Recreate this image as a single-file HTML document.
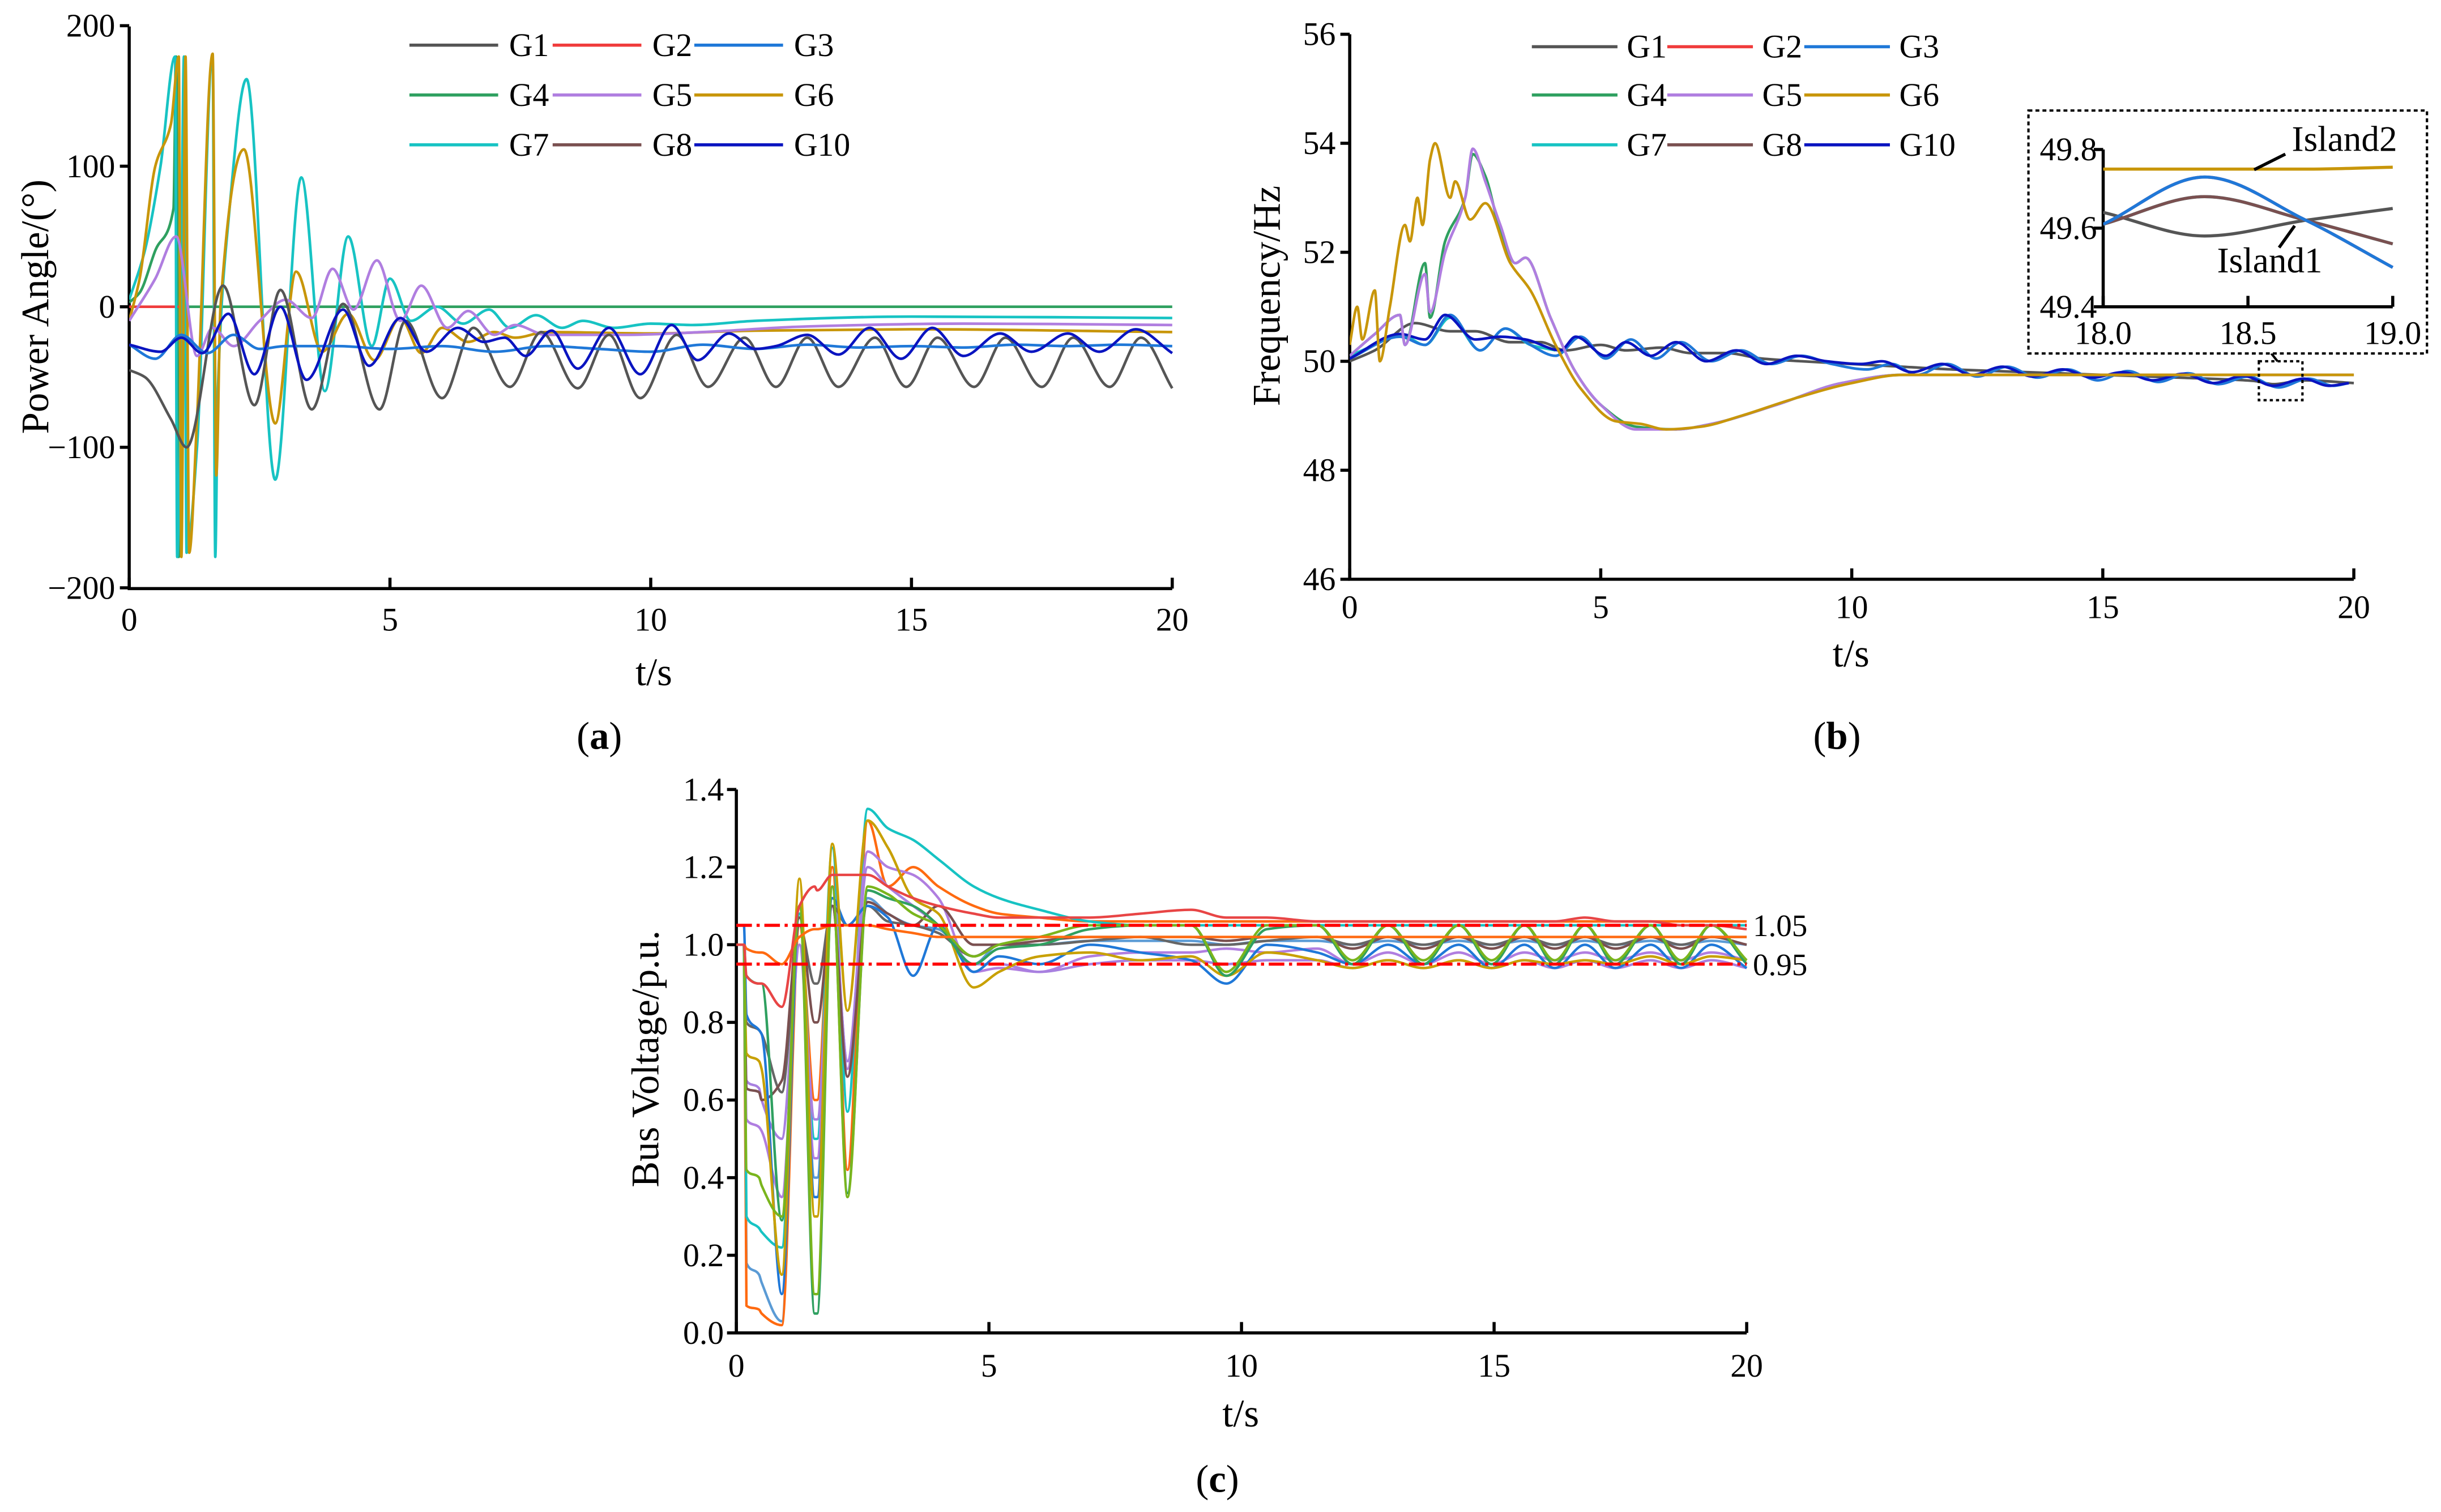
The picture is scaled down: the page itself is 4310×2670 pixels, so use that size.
<!DOCTYPE html>
<html><head><meta charset="utf-8">
<style>
html,body{margin:0;padding:0;background:#fff;}
svg{display:block;}
text{font-family:"Liberation Serif",serif;fill:#000;}
</style></head>
<body>
<svg id="fig" xmlns="http://www.w3.org/2000/svg" width="4310" height="2670" viewBox="0 0 1568 971" preserveAspectRatio="none">
<defs>
<clipPath id="clipA"><rect x="83" y="10" width="672" height="370"/></clipPath>
<clipPath id="clipB"><rect x="867" y="15" width="650" height="360"/></clipPath>
<clipPath id="clipC"><rect x="473" y="500" width="652" height="358"/></clipPath>
<clipPath id="clipI"><rect x="1351" y="85" width="188" height="113"/></clipPath>
</defs>
<g id="panelA"></g>
<g id="panelB"></g>
<g id="panelC"></g>
</svg>
<script>
// ---------- Panel (a) data ----------
const a_yTicks = [200, 100, 0, -100, -200];
const a_yTickLabels = ["200", "100", "0", "\u2212100", "\u2212200"];
const xTicks = [0, 5, 10, 15, 20];
const xTickLabels = ["0", "5", "10", "15", "20"];
const legendNames = ["G1","G2","G3","G4","G5","G6","G7","G8","G10"];
const legendColors = ["#555555","#f03c3c","#1f78d8","#2fa060","#b07ee0","#c8960a","#17c3c3","#7a5050","#0a14c0"];

const g1T = [0,0.3,0.8,1.1,1.8,2.4,2.9,3.5,4.1,4.8,5.3,6.0,6.6,7.3,7.9,8.6,9.2,9.8,10.5,11.1,11.8,12.4,13.0,13.6,14.3,14.9,15.5,16.2,16.8,17.5,18.1,18.8,19.4,20];
const g1V = [-45,-50,-80,-100,15,-70,12,-73,2,-73,-10,-65,-15,-57,-18,-58,-20,-65,-20,-57,-22,-57,-22,-57,-22,-57,-22,-57,-22,-57,-22,-57,-22,-58];
const g2T = [0,1.0];
const g2V = [0,0];
const g3T = [0,0.5,1.0,1.5,2.0,2.5,3.0,4,5,6,7,8,9,10,11,12,13,14,15,16,17,18,19,20];
const g3V = [-27,-37,-20,-33,-20,-30,-28,-28,-30,-28,-32,-28,-30,-32,-27,-30,-27,-29,-28,-29,-27,-28,-27,-28];
const g4T = [0,0.2,0.5,0.85,0.9,0.95,1.0,1.15,1.3,20];
const g4V = [3,10,40,70,178,-178,-60,0,0,0];
const g5T = [0,0.5,0.9,1.3,1.6,2.0,2.5,3.0,3.5,3.9,4.3,4.75,5.2,5.6,6.1,6.5,7.0,7.4,8,9.5,11,13,16,20];
const g5V = [-10,20,50,-35,-15,-28,-10,5,-8,27,-2,33,-10,15,-15,-3,-20,-13,-20,-20,-18,-14,-12,-13];
const g6T = [0,0.2,0.5,0.8,0.95,1.0,1.08,1.15,1.3,1.6,1.67,1.75,2.2,2.8,3.2,3.7,4.2,4.7,5.2,5.6,6.0,6.5,7.0,7.4,8.0,10,12,15,20];
const g6V = [-10,20,100,130,178,-178,178,-175,-80,180,-120,0,112,-83,25,-32,-5,-38,-8,-33,-15,-25,-18,-22,-18,-19,-17,-16,-18];
const g7T = [0,0.3,0.6,0.88,0.92,0.97,1.05,1.1,1.3,1.6,1.65,1.7,1.9,2.25,2.8,3.3,3.75,4.2,4.65,5.0,5.4,5.9,6.4,6.9,7.3,7.8,8.3,8.7,9.3,10,10.8,12,15,20];
const g7V = [5,40,100,178,-178,-100,178,-175,-100,178,-178,-60,60,162,-123,92,-60,50,-28,20,-10,0,-12,-2,-15,-6,-15,-10,-15,-12,-13,-10,-7,-8];
const g10T = [0,0.6,1.0,1.4,1.9,2.4,2.9,3.4,4.1,4.6,5.2,5.7,6.3,6.8,7.2,7.6,8.1,8.6,9.2,9.8,10.4,10.9,11.5,12.0,12.4,13.0,13.6,14.2,14.8,15.4,16.0,16.7,17.3,18.0,18.6,19.3,20];
const g10V = [-27,-32,-22,-33,-5,-48,0,-52,-2,-42,-8,-32,-15,-25,-22,-35,-17,-44,-15,-48,-13,-38,-19,-30,-28,-20,-34,-15,-37,-15,-35,-19,-32,-19,-32,-16,-33];

// ---------- Panel (b) data ----------
const b_yTicks = [56,54,52,50,48,46];
const b_yTickLabels = ["56","54","52","50","48","46"];
const f1T = [0,0.5,1.3,2.0,2.5,3.2,3.8,4.3,5.0,5.5,6.2,6.8,7.5,8.2,9,10,11,12,13.5,15,16.5,18,18.4,19,20];
const f1V = [50,50.2,50.7,50.55,50.55,50.35,50.35,50.2,50.3,50.2,50.25,50.15,50.15,50.05,50.0,49.95,49.9,49.85,49.8,49.75,49.7,49.64,49.58,49.65,49.6];
const f10T = [0,1.0,1.5,1.9,2.5,3.0,3.5,4.2,4.5,5.1,5.5,6.0,6.5,7.1,7.7,8.3,8.9,9.5,10.2,10.6,11.2,11.8,12.4,13.0,13.6,14.2,14.8,15.4,16.0,16.6,17.2,17.8,18.4,19.0,19.5,19.9];
const f10V = [50.05,50.5,50.4,50.85,50.4,50.45,50.4,50.2,50.45,50.1,50.35,50.1,50.35,50.0,50.2,49.95,50.1,50.0,49.95,50.0,49.8,49.95,49.75,49.9,49.72,49.85,49.7,49.8,49.65,49.77,49.6,49.73,49.55,49.68,49.55,49.6];
const f3T = [0,1.0,1.5,2.0,2.6,3.1,3.6,4.1,4.6,5.1,5.6,6.1,6.6,7.2,7.8,8.4,9.0,9.6,10.3,10.8,11.3,11.9,12.5,13.1,13.7,14.3,14.9,15.5,16.1,16.7,17.3,17.9,18.5,19.1,19.6,19.9];
const f3V = [50.05,50.45,50.3,50.85,50.2,50.6,50.3,50.1,50.45,50.05,50.4,50.05,50.35,50.0,50.2,49.95,50.1,49.95,49.85,49.95,49.75,49.95,49.72,49.9,49.7,49.85,49.65,49.82,49.62,49.78,49.58,49.72,49.52,49.68,49.55,49.6];
const f4T = [0,0.5,1.0,1.1,1.5,1.6,1.9,2.3,2.45,2.7,3.0,3.3,3.5,4.0,4.5,5.0,5.7,6.5,7.2,8.5,9.8,11,20];
const f4V = [50.1,50.5,50.85,50.3,51.8,50.8,52.2,53.0,53.8,53.4,52.4,51.8,51.9,50.8,49.8,49.2,48.8,48.75,48.85,49.2,49.6,49.75,49.75];
const f5T = [0,0.5,1.0,1.1,1.5,1.6,1.9,2.3,2.45,2.7,3.0,3.3,3.5,4.0,4.5,5.0,5.7,6.5,7.2,8.5,9.8,11,20];
const f5V = [50.1,50.5,50.85,50.3,51.6,50.9,52.0,53.0,53.9,53.3,52.5,51.8,51.9,50.8,49.8,49.2,48.75,48.75,48.85,49.2,49.6,49.75,49.75];
const f6T = [0,0.15,0.25,0.5,0.6,0.8,1.1,1.2,1.35,1.45,1.6,1.7,2.0,2.1,2.4,2.7,3.2,3.6,4.1,4.6,5.3,5.8,6.3,7.0,7.8,8.8,10,11,12.5,20];
const f6V = [50.3,51.0,50.4,51.3,50.0,51.0,52.5,52.2,53.0,52.5,53.7,54.0,53.0,53.3,52.6,52.9,51.8,51.3,50.3,49.5,48.9,48.85,48.75,48.8,49.0,49.3,49.6,49.75,49.75,49.75];
const f7T = [0,0.5,1.0,1.5,2.0,2.6,3.1,3.6,4.1];
const f7V = [50.1,50.3,50.5,50.3,50.8,50.2,50.6,50.3,50.2];
const insT = [18,18.35,18.7,19];
const ins1V = [49.64,49.58,49.62,49.65];
const ins3V = [49.61,49.73,49.62,49.5];
const ins7V = [49.61,49.68,49.62,49.56];
const ins6V = [49.75,49.75,49.75,49.755];
const i_yTicks = [49.8,49.6,49.4];
const i_yTickLabels = ["49.8","49.6","49.4"];
const i_xTicks = [18.0,18.5,19.0];
const i_xTickLabels = ["18.0","18.5","19.0"];

// ---------- Panel (c) data ----------
const c_yTicks = [1.4,1.2,1.0,0.8,0.6,0.4,0.2,0.0];
const c_yTickLabels = ["1.4","1.2","1.0","0.8","0.6","0.4","0.2","0.0"];
const limits = [1.05, 0.95];
const limitLabels = ["1.05", "0.95"];
const busT = [0,0.15,0.2,0.45,0.5,0.9,1.25,1.55,1.6,1.9,2.2,2.6,3.0,3.5,4.0,4.7,5.2,6,7,8,9,9.7,10.5,11.5,12.2,12.9,13.6,14.3,14.95,15.6,16.2,16.8,17.4,18.1,18.7,19.3,20];
const busColors = ["#e84545","#ff6a10","#ff6a10","#17c3c3","#b07ee0","#666666","#1f78d8","#c8a000","#2fa060","#5b9bd5","#7a5050","#7ab51d","#a880e0"];
const bus1 = [1.0,1.0,0.92,0.9,0.9,0.84,1.1,1.15,1.14,1.18,1.18,1.18,1.15,1.12,1.1,1.08,1.07,1.07,1.07,1.08,1.09,1.07,1.07,1.06,1.06,1.06,1.06,1.06,1.06,1.06,1.06,1.07,1.06,1.06,1.05,1.05,1.04];
const bus2 = [1.0,1.0,0.99,0.98,0.98,0.95,1.02,1.04,1.04,1.05,1.05,1.05,1.04,1.03,1.02,1.02,1.02,1.02,1.02,1.02,1.02,1.02,1.02,1.02,1.02,1.02,1.02,1.02,1.02,1.02,1.02,1.02,1.02,1.02,1.02,1.02,1.02];
const bus3 = [1.0,1.0,0.07,0.06,0.05,0.02,1.05,0.6,0.6,1.2,0.42,1.32,1.15,1.2,1.15,1.1,1.08,1.07,1.06,1.06,1.06,1.06,1.06,1.06,1.06,1.06,1.06,1.06,1.06,1.06,1.06,1.06,1.06,1.06,1.06,1.06,1.06];
const bus4 = [1.0,1.0,0.3,0.27,0.26,0.22,1.08,0.5,0.5,1.25,0.57,1.35,1.3,1.27,1.22,1.15,1.12,1.09,1.06,1.05,1.05,1.05,1.05,1.05,1.05,1.05,1.05,1.05,1.05,1.05,1.05,1.05,1.05,1.05,1.05,1.05,1.05];
const bus5 = [1.0,1.0,0.55,0.53,0.52,0.35,1.0,0.45,0.45,1.15,0.68,1.24,1.2,1.18,1.12,0.93,0.94,0.93,0.97,0.98,0.98,0.99,0.98,0.99,0.95,0.98,0.95,0.98,0.95,0.98,0.96,0.98,0.96,0.98,0.96,0.98,0.96];
const bus6 = [1.0,1.0,0.8,0.78,0.77,0.62,1.05,0.9,0.9,1.1,1.05,1.1,1.06,1.05,1.03,0.97,1.0,1.0,1.01,1.02,1.0,1.0,1.01,1.02,1.0,1.02,1.0,1.02,1.0,1.02,1.0,1.02,1.0,1.02,1.0,1.02,1.02];
const bus7 = [1.05,1.05,0.82,0.78,0.77,0.1,1.1,0.35,0.35,1.12,1.05,1.1,1.07,0.92,1.05,0.93,0.97,0.95,1.0,0.98,0.96,0.9,1.0,0.98,0.95,1.0,0.95,1.0,0.94,1.0,0.94,1.0,0.94,1.0,0.94,1.0,0.94];
const bus8 = [0.95,0.95,0.72,0.7,0.68,0.15,1.17,0.3,0.3,1.26,0.83,1.32,1.25,1.12,1.08,0.89,0.93,0.97,0.98,0.96,0.97,0.92,0.98,0.96,0.94,0.96,0.94,0.96,0.94,0.96,0.95,0.96,0.95,0.97,0.95,0.97,0.96];
const bus9 = [0.95,0.95,0.92,0.9,0.9,0.29,1.1,0.05,0.05,1.15,0.36,1.14,1.12,1.1,1.05,0.95,0.99,1.0,1.04,1.05,1.05,0.92,1.04,1.05,0.95,1.05,0.95,1.05,0.95,1.05,0.95,1.05,0.95,1.05,0.95,1.05,0.95];
const bus10 = [1.0,1.0,0.18,0.15,0.13,0.03,1.08,0.4,0.4,1.1,0.7,1.12,1.08,1.05,1.04,0.95,1.0,1.0,1.01,1.01,1.01,1.0,1.01,1.01,1.0,1.01,1.0,1.01,1.0,1.01,1.0,1.01,1.0,1.01,1.0,1.01,1.0];
const bus11 = [1.0,1.0,0.63,0.62,0.6,0.65,1.07,0.8,0.8,1.1,0.66,1.11,1.08,1.05,1.1,1.0,1.0,1.01,1.02,1.02,1.02,1.01,1.02,1.02,0.99,1.02,0.99,1.02,0.99,1.02,0.99,1.02,0.99,1.02,0.99,1.02,1.0];
const bus12 = [1.0,1.0,0.42,0.4,0.38,0.3,1.1,0.1,0.1,1.15,0.35,1.15,1.13,1.08,1.05,0.97,1.0,1.02,1.05,1.05,1.05,0.93,1.05,1.05,0.96,1.05,0.96,1.05,0.96,1.05,0.96,1.05,0.96,1.05,0.96,1.05,0.96];
const bus13 = [1.0,1.0,0.65,0.63,0.6,0.5,1.0,0.55,0.55,1.1,0.7,1.2,1.15,1.1,1.05,0.95,0.95,0.93,0.95,0.96,0.96,0.95,0.96,0.96,0.94,0.96,0.94,0.96,0.94,0.96,0.94,0.96,0.94,0.96,0.94,0.96,0.94];

// ---------- helpers ----------
const NS = "http://www.w3.org/2000/svg";
function mk(tag, attrs, parent) {
  const e = document.createElementNS(NS, tag);
  for (const k in attrs) e.setAttribute(k, attrs[k]);
  parent.appendChild(e);
  return e;
}
function txt(s, x, y, size, anchor, parent) {
  const t = mk("text", {x: x, y: y, "font-size": size, "text-anchor": anchor}, parent);
  t.textContent = s;
  return t;
}
function monoPath(xs, ys) {
  const n = xs.length;
  if (n < 2) return "";
  const d = [], m = new Array(n);
  for (let i = 0; i < n - 1; i++) d.push((ys[i+1]-ys[i])/(xs[i+1]-xs[i]));
  m[0] = d[0]; m[n-1] = d[n-2];
  for (let i = 1; i < n - 1; i++) {
    if (d[i-1]*d[i] <= 0) m[i] = 0;
    else { const w1 = 2*(xs[i+1]-xs[i]) + (xs[i]-xs[i-1]); const w2 = (xs[i+1]-xs[i]) + 2*(xs[i]-xs[i-1]);
      m[i] = (w1+w2)/(w1/d[i-1] + w2/d[i]); }
  }
  let p = "M" + xs[0].toFixed(2) + "," + ys[0].toFixed(2);
  for (let i = 0; i < n - 1; i++) {
    const h = xs[i+1]-xs[i];
    p += " C" + (xs[i]+h/3).toFixed(2) + "," + (ys[i]+m[i]*h/3).toFixed(2) + " " +
         (xs[i+1]-h/3).toFixed(2) + "," + (ys[i+1]-m[i+1]*h/3).toFixed(2) + " " +
         xs[i+1].toFixed(2) + "," + ys[i+1].toFixed(2);
  }
  return p;
}
function series(T, V, sx, sy, color, clip, parent, width) {
  const path = mk("path", {d: monoPath(T.map(sx), V.map(sy)), fill: "none", stroke: color,
    "stroke-width": width || 1.7, "stroke-linejoin": "round", "clip-path": "url(#" + clip + ")"}, parent);
  return path;
}
function axes(parent, x0, x1, y0, y1, sx, sy, yTicks, yLabels, xT, xL, yLabX, xLabY, fs) {
  const ax = mk("g", {}, parent);
  
  
  mk("path", {d: "M" + x0 + "," + y1 + " L" + x0 + "," + y0 + " L" + x1 + "," + y0, fill: "none", stroke: "#000", "stroke-width": 2}, ax);
  yTicks.forEach((v, i) => {
    mk("line", {x1: x0 - 6, x2: x0, y1: sy(v), y2: sy(v), stroke: "#000", "stroke-width": 2}, ax);
    const t = txt(yLabels[i], yLabX, sy(v) + 7, fs || 21, "end", ax);
    
    
  });
  xT.forEach((v, i) => {
    mk("line", {x1: sx(v), x2: sx(v), y1: y0, y2: y0 - 7, stroke: "#000", "stroke-width": 2}, ax);
    const t = txt(xL[i], sx(v), xLabY, fs || 21, "middle", ax);
    
    
  });
}
function legend(parent, cols, rows, lineLen, textGap) {
  const lg = mk("g", {}, parent);
  
  
  legendNames.forEach((nm, i) => {
    const x = cols[i % 3], y = rows[Math.floor(i / 3)];
    const e = mk("g", {}, lg);
    
    
    mk("line", {x1: x, x2: x + lineLen, y1: y, y2: y, stroke: legendColors[i], "stroke-width": 2}, e);
    txt(nm, x + lineLen + textGap, y + 7, 21, "start", e);
  });
}

// ---------- Panel (a) ----------
const A = document.getElementById("panelA");
const xa = t => 83 + t * 33.5;
const ya = v => 197 - v * 0.9025;
axes(A, 83, 753, 378, 17, xa, ya, a_yTicks, a_yTickLabels, xTicks, xTickLabels, 74, 405);
const aS = [[g4T,g4V,3],[g2T,g2V,1],[g7T,g7V,6],[g6T,g6V,5],[g5T,g5V,4],[g1T,g1V,0],[g3T,g3V,2],[g10T,g10V,8]];
aS.forEach(s => {
  const p = series(s[0], s[1], xa, ya, legendColors[s[2]], "clipA", A);
  
  
});
legend(A, [263, 355, 446], [29, 61, 93], 57, 7);
let t;
t = txt("Power Angle/(\u00B0)", 0, 0, 25, "middle", A);
t.setAttribute("transform", "translate(31,197) rotate(-90)");


t = txt("t/s", 420, 440, 25, "middle", A);


t = mk("text", {x: 385, y: 481, "font-size": 25, "text-anchor": "middle"}, A);
t.innerHTML = '(<tspan font-weight="bold">a</tspan>)';



// ---------- Panel (b) ----------
const B = document.getElementById("panelB");
const xb = v => 867 + v * 32.25;
const yb = f => 232 - (f - 50) * 35;
axes(B, 867, 1512, 372, 22, xb, yb, b_yTicks, b_yTickLabels, xTicks, xTickLabels, 858, 397);
const bS = [[f1T,f1V,0],[f7T,f7V,6],[f3T,f3V,2],[f10T,f10V,8],[f4T,f4V,3],[f5T,f5V,4],[f6T,f6V,5]];
bS.forEach(s => {
  const p = series(s[0], s[1], xb, yb, legendColors[s[2]], "clipB", B);
  
  
});
legend(B, [984, 1071, 1159], [30, 61, 93], 55, 6);
t = txt("Frequency/Hz", 0, 0, 25, "middle", B);
t.setAttribute("transform", "translate(822,190) rotate(-90)");


t = txt("t/s", 1189, 428, 25, "middle", B);


t = mk("text", {x: 1180, y: 481, "font-size": 25, "text-anchor": "middle"}, B);
t.innerHTML = '(<tspan font-weight="bold">b</tspan>)';


// zoom marker + inset
const zb = mk("rect", {x: 1451, y: 232, width: 28, height: 25, fill: "none", stroke: "#000", "stroke-width": 1.5, "stroke-dasharray": "2,2"}, B);


mk("line", {x1: 1463, y1: 232, x2: 1459, y2: 227, stroke: "#000", "stroke-width": 1.5}, B);
const I = mk("g", {}, B);


mk("rect", {x: 1303, y: 71, width: 256, height: 156, fill: "#fff", stroke: "#000", "stroke-width": 1.5, "stroke-dasharray": "2.5,2"}, I);
const xi = v => 1351 + (v - 18) * 186;
const yi = f => 197 - (f - 49.4) * 252.5;
axes(I, 1351, 1537, 197, 96, xi, yi, i_yTicks, i_yTickLabels, i_xTicks, i_xTickLabels, 1347, 221);
[[ins1V,0],[ins7V,6],[ins7V,7],[ins3V,1],[ins3V,2],[ins6V,5]].forEach(s => {
  const p = series(insT, s[0], xi, yi, legendColors[s[1]], "clipI", I, 2);
  
  
});
mk("line", {x1: 1448, y1: 109, x2: 1468, y2: 99, stroke: "#000", "stroke-width": 2}, I);
mk("line", {x1: 1474, y1: 145, x2: 1464, y2: 159, stroke: "#000", "stroke-width": 2}, I);
t = txt("Island2", 1506, 97, 23, "middle", I);


t = txt("Island1", 1458, 175, 23, "middle", I);



// ---------- Panel (c) ----------
const C = document.getElementById("panelC");
const xc = v => 473 + v * 32.45;
const yc = v => 856 - v * 249.3;
axes(C, 473, 1122, 856, 507, xc, yc, c_yTicks, c_yTickLabels, xTicks, xTickLabels, 465, 884);
const busAll = [bus10,bus3,bus4,bus5,bus13,bus6,bus11,bus7,bus8,bus9,bus12,bus2,bus1];
const busIdx = [9,2,3,4,12,5,10,6,7,8,11,1,0];
busAll.forEach((vals, i) => {
  const p = series(busT, vals, xc, yc, busColors[busIdx[i]], "clipC", C, 1.6);
  
  
});
limits.forEach((v, i) => {
  const l = mk("line", {x1: 473, x2: 1122, y1: yc(v), y2: yc(v), stroke: "#ff0000", "stroke-width": 2, "stroke-dasharray": "10,3,2,3"}, C);
  
  
  const tl = txt(limitLabels[i], 1126, yc(v) + 7, 20, "start", C);
  
  
});
t = txt("Bus Voltage/p.u.", 0, 0, 25, "middle", C);
t.setAttribute("transform", "translate(423,680) rotate(-90)");


t = txt("t/s", 797, 916, 25, "middle", C);


t = mk("text", {x: 782, y: 958, "font-size": 25, "text-anchor": "middle"}, C);
t.innerHTML = '(<tspan font-weight="bold">c</tspan>)';


</script>
</body></html>
